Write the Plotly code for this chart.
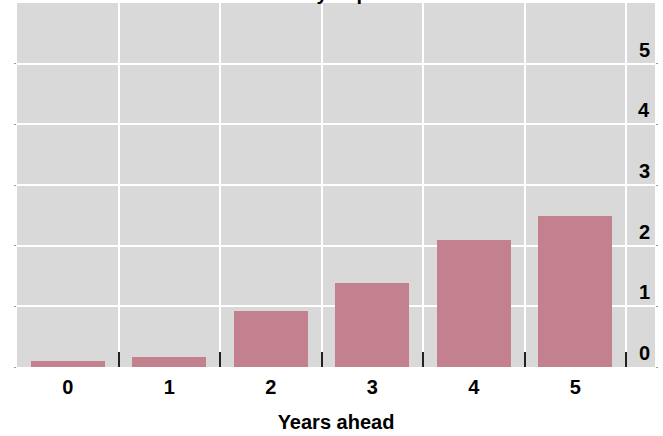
import plotly.graph_objects as go

years = [0, 1, 2, 3, 4, 5]
year_labels = ["0", "1", "2", "3", "4", "5"]
values = [0.10, 0.17, 0.92, 1.39, 2.10, 2.49]
y_ticks = [0, 1, 2, 3, 4, 5]
y_labels = ["0", "1", "2", "3", "4", "5"]
boundaries = [-0.5, 0.5, 1.5, 2.5, 3.5, 4.5, 5.5]
title_text = "Monthly impact"

FONT = "Liberation Sans, Arial, sans-serif"
TXT = dict(family=FONT, size=20, color="black", weight="bold")

fig = go.Figure()
fig.add_trace(go.Bar(x=years, y=values, marker=dict(color="#C38190", line=dict(width=0)),
                     width=0.73, showlegend=False))
# invisible trace to activate the labelling axis
fig.add_trace(go.Scatter(x=years, y=[None]*len(years), xaxis="x2", showlegend=False,
                         hoverinfo="skip", mode="markers"))

annotations = [dict(text=title_text, xref="paper", yref="paper", x=0.482, y=1,
                    xanchor="center", yanchor="bottom", yshift=-3, showarrow=False,
                    font=TXT)]
for v, lab in zip(y_ticks, y_labels):
    annotations.append(dict(text=lab, xref="paper", yref="y", x=1, y=v,
                            xanchor="right", yanchor="middle", xshift=-3, yshift=14,
                            showarrow=False, font=TXT))

fig.update_layout(
    width=663, height=436,
    margin=dict(l=17, r=8, t=3, b=69),
    paper_bgcolor="white", plot_bgcolor="#D9D9D9",
    font=TXT,
    bargap=0,
    xaxis=dict(range=[-0.5, 5.785], tickvals=boundaries, showticklabels=False,
               ticks="inside", ticklen=15, tickwidth=2, tickcolor="#222",
               showgrid=True, gridcolor="white", gridwidth=2, zeroline=False),
    xaxis2=dict(overlaying="x", matches="x", side="bottom", tickvals=years, ticktext=year_labels,
                showgrid=False, ticks="", zeroline=False, ticklabelstandoff=6,
                tickfont=TXT, title=dict(text="Years ahead", standoff=17, font=TXT)),
    yaxis=dict(range=[0, 6], tickvals=y_ticks, side="right", showticklabels=False,
               showgrid=True, gridcolor="white", gridwidth=2, zeroline=False,
               ticks="outside", ticklen=2, tickcolor="#999", mirror="ticks"),
    annotations=annotations,
)

fig.write_html("out.html", post_script="document.body.style.margin='0';",
               config={"displayModeBar": False})
